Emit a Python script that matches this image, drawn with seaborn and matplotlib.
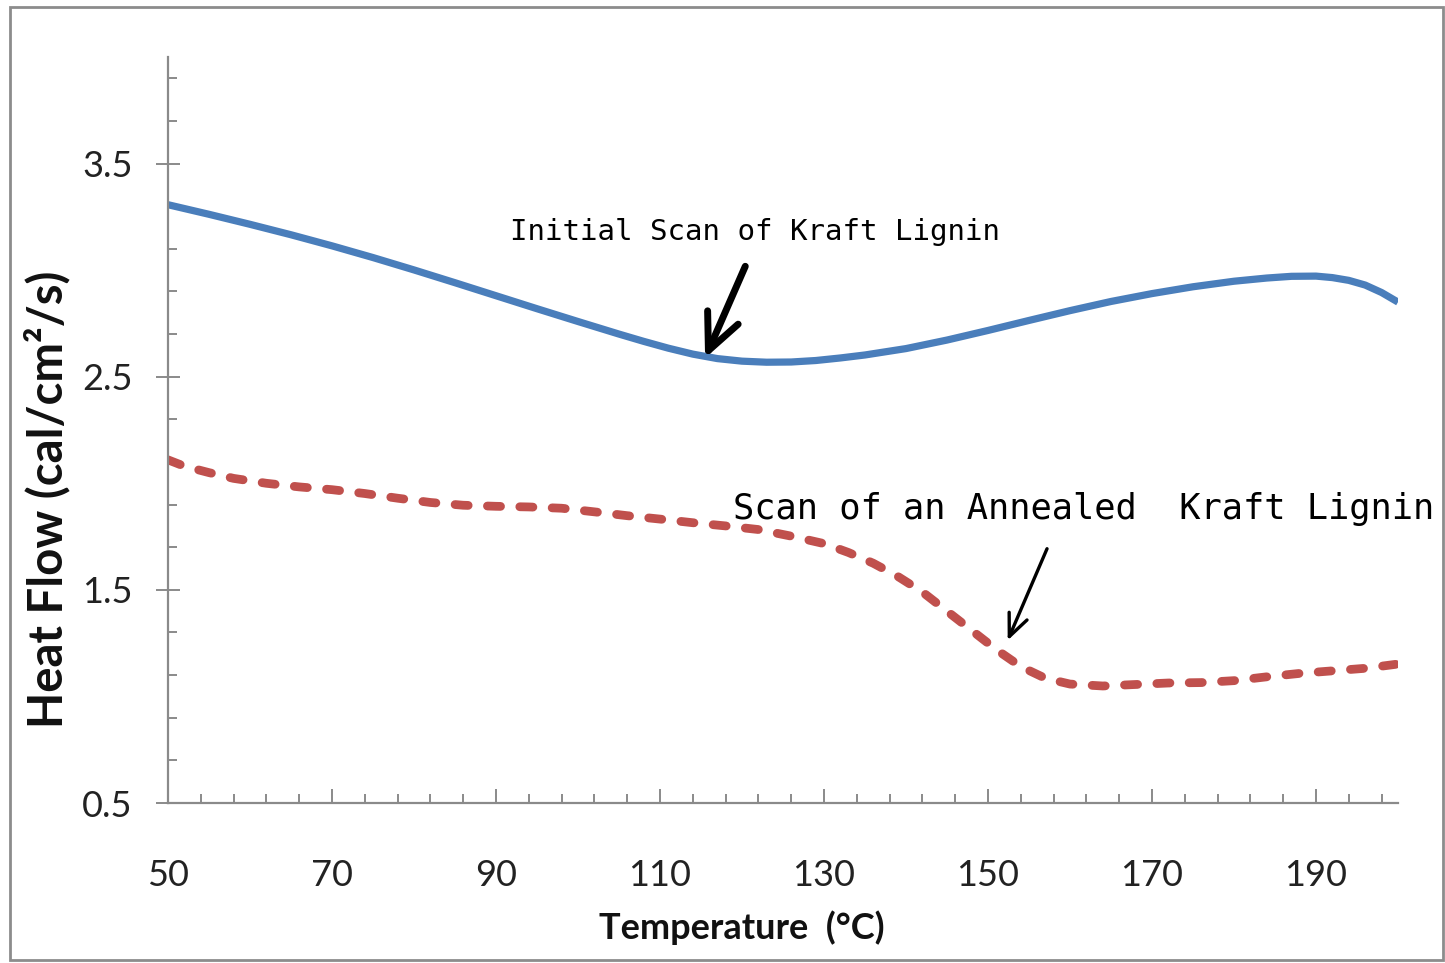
import numpy as np
import pandas as pd
import matplotlib
matplotlib.use("Agg")
import matplotlib.pyplot as plt
import seaborn as sns
from matplotlib.ticker import FixedLocator
from matplotlib.patches import Rectangle

# ---------------- data ----------------
temp_initial = [50, 55, 60, 65, 70, 75, 80, 85, 90, 95, 100, 105, 108, 111,
                114, 117, 120, 123, 126, 129, 132, 135, 140, 145, 150, 155,
                160, 165, 170, 175, 180, 184, 187, 190, 192, 194, 196, 198,
                200]
heat_initial = [3.307, 3.262, 3.215, 3.166, 3.114, 3.059, 3.001, 2.941, 2.880,
                2.819, 2.759, 2.700, 2.666, 2.634, 2.606, 2.585, 2.573, 2.568,
                2.569, 2.576, 2.588, 2.602, 2.632, 2.672, 2.717, 2.764, 2.810,
                2.853, 2.890, 2.922, 2.948, 2.963, 2.971, 2.972, 2.965, 2.952,
                2.930, 2.895, 2.850]

temp_annealed = [50, 52, 55, 58, 62, 66, 70, 74, 78, 82, 86, 90, 94, 98, 102,
                 106, 110, 114, 118, 122, 126, 130, 133, 136, 139, 142, 145,
                 148, 151, 154, 157, 160, 164, 168, 172, 176, 180, 184, 188,
                 192, 196, 200]
heat_annealed = [2.11, 2.08, 2.05, 2.023, 2.0, 1.983, 1.97, 1.952, 1.93, 1.91,
                 1.897, 1.892, 1.889, 1.883, 1.866, 1.848, 1.832, 1.815, 1.80,
                 1.783, 1.752, 1.717, 1.675, 1.625, 1.563, 1.49, 1.40, 1.31,
                 1.22, 1.14, 1.085, 1.058, 1.049, 1.056, 1.063, 1.065, 1.074,
                 1.092, 1.108, 1.12, 1.132, 1.152]

x_tick_values = [50, 70, 90, 110, 130, 150, 170, 190]
x_tick_labels = ["50", "70", "90", "110", "130", "150", "170", "190"]
y_tick_values = [0.5, 1.5, 2.5, 3.5]
y_tick_labels = ["0.5", "1.5", "2.5", "3.5"]

label_initial = "Initial Scan of Kraft Lignin"
label_annealed = "Scan of an Annealed  Kraft Lignin"
x_title = "Temperature  (°C)"
y_title = "Heat Flow (cal/cm²/s)"

# ---------------- styling ----------------
sns.set_style("white")
plt.rcParams['font.family'] = ['Lato', 'DejaVu Sans']

W, H = 1445, 963
fig = plt.figure(figsize=(W / 100, H / 100), dpi=100)
fig.patch.set_facecolor("white")
ax = fig.add_axes([168 / W, 1 - 803 / H, 1230 / W, 746 / H])

gray = "#8a8a8a"
blue = "#4a7ebb"
red = "#c0504d"

df_init = pd.DataFrame({"Temperature": temp_initial, "HeatFlow": heat_initial})
df_ann = pd.DataFrame({"Temperature": temp_annealed, "HeatFlow": heat_annealed})

sns.lineplot(data=df_init, x="Temperature", y="HeatFlow", ax=ax, color=blue,
             linewidth=5.2, solid_capstyle="butt", solid_joinstyle="round")
sns.lineplot(data=df_ann, x="Temperature", y="HeatFlow", ax=ax, color=red,
             linewidth=6.3, linestyle=(0, (1.5, 2.2)), dash_capstyle="round")

ax.set_xlim(50, 200)
ax.set_ylim(0.5, 4.0)

# spines
for s in ["top", "right"]:
    ax.spines[s].set_visible(False)
for s in ["left", "bottom"]:
    ax.spines[s].set_color(gray)
    ax.spines[s].set_linewidth(1.6)

# ticks
ax.xaxis.set_major_locator(FixedLocator(x_tick_values))
ax.set_xticklabels(x_tick_labels)
minor_x = [50 + 4 * k for k in range(38) if k % 5 != 0]
ax.xaxis.set_minor_locator(FixedLocator(minor_x))

ax.yaxis.set_major_locator(FixedLocator(y_tick_values))
ax.set_yticklabels(y_tick_labels)
minor_y = [round(0.5 + 0.2 * k, 2) for k in range(18) if k % 5 != 0]
ax.yaxis.set_minor_locator(FixedLocator(minor_y))

ax.tick_params(which="both", bottom=True, left=True, top=False, right=False)
ax.tick_params(axis="x", which="major", direction="in", length=10, width=1.4,
               color=gray, pad=40, labelsize=26, labelcolor="#222222")
ax.tick_params(axis="x", which="minor", direction="in", length=6.5, width=1.4,
               color=gray)
ax.tick_params(axis="y", which="major", direction="inout", length=17, width=1.4,
               color=gray, pad=17, labelsize=26, labelcolor="#222222")
ax.tick_params(axis="y", which="minor", direction="in", length=6.5, width=1.4,
               color=gray)

# axis titles
ax.set_xlabel(x_title, fontsize=26, fontweight="bold", color="#111111")
ax.xaxis.set_label_coords((742 - 168) / 1230, (803 - 928) / 746)
ax.xaxis.label.set_va("center")
ax.set_ylabel(y_title, fontsize=34, fontweight="bold", color="#111111")
ax.yaxis.set_label_coords((47 - 168) / 1230, (803 - 499) / 746)
ax.yaxis.label.set_va("center")
ax.yaxis.label.set_ha("center")

# annotations
ax.text(91.7, 3.18, label_initial, family=["DejaVu Sans Mono"], fontsize=21,
        ha="left", va="center", color="black")
ax.annotate("", xy=(115.5, 2.587), xytext=(120.4, 3.018),
            arrowprops=dict(arrowstyle="->,head_length=0.65,head_width=0.3",
                            lw=5, color="black", shrinkA=0, shrinkB=0,
                            mutation_scale=40))

ax.text(118.9, 1.88, label_annealed, family=["DejaVu Sans Mono"], fontsize=25.5,
        ha="left", va="center", color="black", clip_on=False)
ax.annotate("", xy=(152.4, 1.263), xytext=(157.2, 1.693),
            arrowprops=dict(arrowstyle="->,head_length=0.8,head_width=0.35",
                            lw=2.4, color="black", shrinkA=0, shrinkB=0,
                            mutation_scale=20))

# outer gray frame of the picture
fig.patches.append(Rectangle((10 / W, 3 / H), (1443 - 10) / W, (956 - 3) / H,
                             transform=fig.transFigure, fill=False,
                             edgecolor="#8c8c8c", linewidth=2))

fig.savefig("out.png", dpi=100, facecolor="white")
